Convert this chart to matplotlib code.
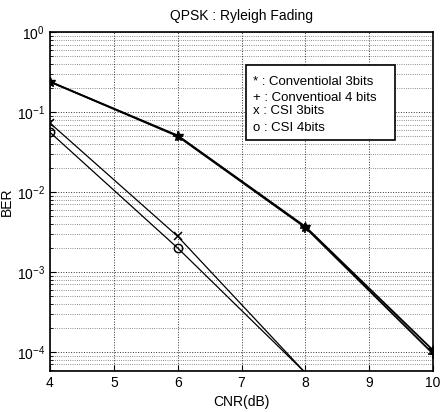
import matplotlib
matplotlib.use("Agg")
import matplotlib.pyplot as plt
from matplotlib.patches import Rectangle
from matplotlib.ticker import LogLocator, NullFormatter

plt.rcParams['font.family'] = ['Liberation Sans', 'DejaVu Sans']

cnr = [4, 6, 8, 10]
conv3 = [0.24, 0.051, 0.0037, 1.05e-4]
conv4 = [0.24, 0.050, 0.0036, 0.95e-4]
cnr_csi = [4, 6, 8]
csi3 = [0.073, 0.0028, 5.5e-5]
csi4 = [0.056, 0.0020, 5.5e-5]

legend_labels = ["* : Conventiolal 3bits", "+ : Conventioal 4 bits",
                 "x : CSI 3bits", "o : CSI 4bits"]
title = "QPSK : Ryleigh Fading"
xlabel = "CNR(dB)"
ylabel = "BER"

fig = plt.figure(figsize=(4.42, 4.12), dpi=100)
ax = fig.add_axes([0.113, 0.0995, 0.867, 0.8225])

ax.semilogy(cnr, conv3, color='k', lw=1.3, marker='*', ms=7, mfc='k')
ax.semilogy(cnr, conv4, color='k', lw=1.3, marker='+', ms=7, mew=1.2)
ax.semilogy(cnr_csi, csi3, color='k', lw=0.9, marker='x', ms=6, mew=1.1,
            markevery=[0, 1])
ax.semilogy(cnr_csi, csi4, color='k', lw=0.9, marker='o', ms=6, mfc='none',
            mew=1.1, markevery=[0, 1])

ax.set_xlim(4, 10)
ax.set_ylim(5.8e-5, 1.0)
ax.set_xticks([4, 5, 6, 7, 8, 9, 10])
ax.yaxis.set_major_locator(LogLocator(base=10, numticks=10))
ax.yaxis.set_minor_locator(LogLocator(base=10, subs=range(2, 10), numticks=20))
ax.yaxis.set_minor_formatter(NullFormatter())

ax.grid(True, which='major', linestyle=':', color='k', lw=0.7, alpha=0.8)
ax.grid(True, which='minor', axis='y', linestyle=':', color='k', lw=0.6, alpha=0.6)

ax.tick_params(axis='both', which='both', direction='in', labelsize=10)
ax.tick_params(which='major', length=4)
ax.tick_params(which='minor', length=2)
for s in ax.spines.values():
    s.set_linewidth(1.2)

ax.set_title(title, fontsize=10, pad=9)
ax.set_xlabel(xlabel, fontsize=10, labelpad=4)
ax.set_ylabel(ylabel, fontsize=10, labelpad=2)

# text legend box
bx0, by0, bx1, by1 = 0.512, 0.681, 0.901, 0.903
ax.add_patch(Rectangle((bx0, by0), bx1 - bx0, by1 - by0, transform=ax.transAxes,
                       facecolor='white', edgecolor='k', lw=1.2, zorder=5))
ys = [0.853, 0.806, 0.768, 0.718]
for lab, yy in zip(legend_labels, ys):
    ax.text(bx0 + 0.017, yy, lab, transform=ax.transAxes, fontsize=9.5,
            va='center', ha='left', zorder=6)

fig.savefig("out.png", dpi=100)
